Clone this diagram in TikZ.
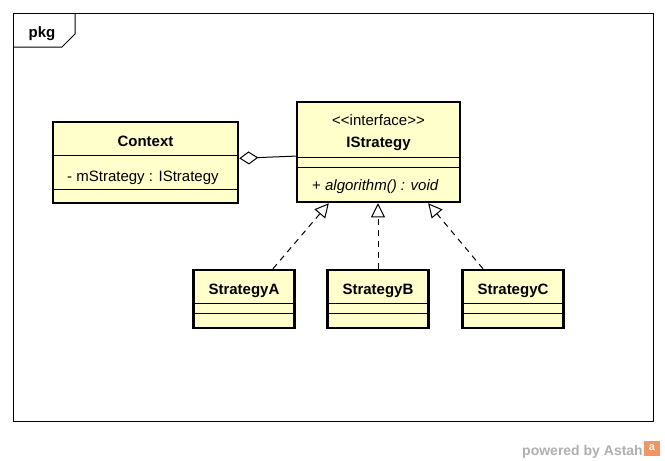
\documentclass[tikz,border=0pt]{standalone}
\usepackage{fontspec}
\setmainfont{Liberation Sans}
\usetikzlibrary{arrows.meta,calc}

\definecolor{umlfill}{RGB}{255,255,204}
\definecolor{astahgray}{RGB}{175,175,175}
\definecolor{astahorange}{RGB}{240,150,100}

\tikzset{
    cls/.style={draw,line width=2.5pt,fill=umlfill,inner sep=0pt},
    cname/.style={anchor=base,font=\fontsize{15}{18}\selectfont\bfseries,inner sep=0pt},
    ctext/.style={anchor=base,font=\fontsize{15}{18}\selectfont,inner sep=0pt},
    real/.style={line width=1pt,dash pattern=on 6pt off 5pt,
        -{Triangle[open,length=14pt,width=14pt,line width=1pt]}},
    agg/.style={line width=1pt,{Diamond[open,length=19pt,width=13pt,line width=1pt]}-}
}

\begin{document}
\begin{tikzpicture}[x=1pt,y=-1pt]
        \useasboundingbox (0,0) rectangle (665,461);
        % frame and package tab
        \draw[line width=1pt] (13,13) rectangle (653,421);
        \draw[line width=1pt] (13,47) -- (62,47) -- (75,34) -- (75,13);
        \node[cname] (pkg) at (42,37) {pkg};
        % classes
        \node[cls,minimum width=185pt,minimum height=81pt] (ctx) at (145.5,162.5) {};
        \node[cls,minimum width=163pt,minimum height=100pt] (is) at (378.5,152) {};
        \node[cls,minimum width=101pt,minimum height=58pt] (sa) at (244,299) {};
        \node[cls,minimum width=101pt,minimum height=58pt] (sb) at (378,299) {};
        \node[cls,minimum width=101pt,minimum height=58pt] (sc) at (513,299) {};
        % compartments
        \draw (53,155) -- (238,155);
        \draw (53,189) -- (238,189);
        \draw (297,157) -- (460,157);
        \draw (297,167) -- (460,167);
        \foreach \c in {sa,sb,sc}{
            \draw (\c.west |- 0,303) -- (\c.east |- 0,303);
            \draw (\c.west |- 0,313) -- (\c.east |- 0,313);
        }
        % texts
        \node[cname] (ctxname) at (ctx |- 0,146) {Context};
        \node[ctext,anchor=base west] (ctxattr) at (67,181) {- mStrategy : IStrategy};
        \node[ctext] (isster) at (is |- 0,125.5) {<{}<interface>{}>};
        \node[cname] (isname) at (is |- 0,147) {IStrategy};
        \node[ctext,anchor=base west] (isop) at (312,190) {+ \textit{algorithm() : void}};
        \node[cname] (saname) at (sa |- 0,294) {StrategyA};
        \node[cname] (sbname) at (sb |- 0,294) {StrategyB};
        \node[cname] (scname) at (sc |- 0,294) {StrategyC};
        % relations
        \draw[agg] ($(ctx.north east)!0.45!(ctx.south east)$) -- ($(is.north west)!0.54!(is.south west)$);
        \draw[real] ($(sa.north west)!0.78!(sa.north east)$) -- ($(is.south west)!0.2!(is.south east)$);
        \draw[real] (sb.north) -- (sb.north |- is.south);
        \draw[real] ($(sc.north west)!0.21!(sc.north east)$) -- ($(is.south west)!0.8!(is.south east)$);
        % watermark
        \node[anchor=base east,inner sep=0pt,text=astahgray,font=\fontsize{14}{16}\selectfont\bfseries] (pwr) at (643,455) {powered by Astah};
        \fill[astahorange] (644,441) rectangle (660,456);
        \node[inner sep=0pt,text=white,font=\fontsize{11}{12}\selectfont\bfseries] (logo) at (652,448) {a};
\end{tikzpicture}
\end{document}
